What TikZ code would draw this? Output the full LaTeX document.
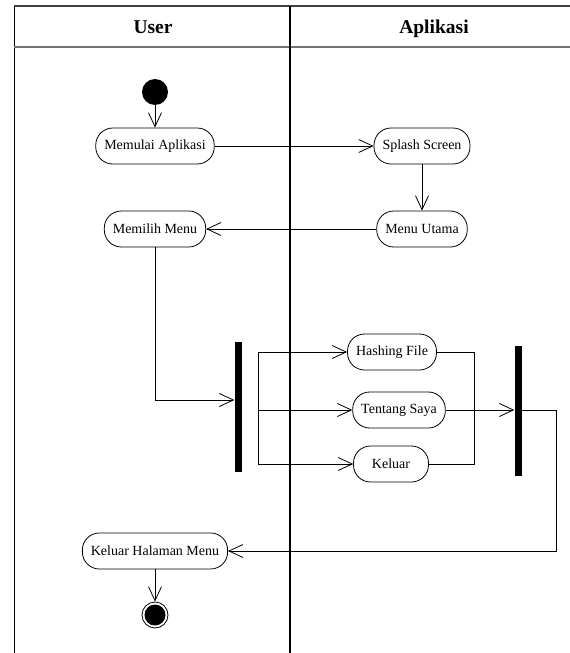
\documentclass[tikz,border=0pt]{standalone}
\usepackage{fontspec}
\setmainfont{Liberation Serif}
\usetikzlibrary{arrows.meta}

\begin{document}
\begin{tikzpicture}[x=1pt,y=-1pt,
  aksi/.style={draw,line width=0.8pt,rounded corners=17pt,minimum height=36pt,inner xsep=8.5pt,font=\rmfamily\fontsize{14}{16}\selectfont},
  palang/.style={fill=black,minimum width=7pt,minimum height=130pt,inner sep=0pt},
  panah/.style={line width=0.8pt,-{Straight Barb[length=14pt,width=13pt,line width=0.8pt]}},
  garis/.style={line width=0.8pt},
  judul/.style={anchor=base,font=\fontsize{19.5}{22}\selectfont\bfseries}]
\useasboundingbox (0,0) rectangle (570,653);
% Swimlane
\draw[line width=1pt] (14,653) -- (14,6);
\draw[black!75,line width=1.6pt] (14,6) -- (570,6);
\draw[black!55,line width=2.2pt] (14,47) -- (570,47);
\draw[line width=1.2pt] (290,6) -- (290,653);
\node[judul] (hUser) at (153,33) {User};
\node[judul] (hApp) at (434,33) {Aplikasi};
% User
\node[circle,fill=black,minimum size=26pt,inner sep=0pt] (mulai) at (155,92) {};
\node[aksi] (memulai) at (155,146) {Memulai Aplikasi};
\node[aksi] (memilih) at (155,229) {Memilih Menu};
\node[palang] (fork) at (238,407) {};
\node[aksi] (keluarhal) at (155,551) {Keluar Halaman Menu};
\node[circle,draw,line width=0.8pt,minimum size=26pt,inner sep=0pt] (akhir) at (155,615) {};
\fill (akhir.center) circle (10.5pt);
% Aplikasi
\node[aksi] (splash) at (422,146) {Splash Screen};
\node[aksi] (menu) at (422,229) {Menu Utama};
\node[aksi] (hashing) at (392,352) {Hashing File};
\node[aksi] (tentang) at (399,410) {Tentang Saya};
\node[aksi,minimum width=75pt] (keluar) at (391,464) {Keluar};
\node[palang] (join) at (518,411) {};
% Alur
\draw[panah] (mulai) -- (memulai);
\draw[panah] (memulai) -- (splash);
\draw[panah] (splash) -- (menu);
\draw[panah] (menu) -- (memilih);
\draw[panah] (memilih) |- ([yshift=7pt]fork.west);
\coordinate (f1) at (258,352);
\coordinate (f3) at (258,464);
\draw[garis] (f1) -- (f3);
\draw[panah] (f1) -- (hashing);
\draw[panah] (258,410) -- (tentang);
\draw[panah] (f3) -- (keluar);
\coordinate (g1) at (474,352);
\draw[garis] (hashing) -- (g1) |- (keluar);
\draw[panah] (tentang) -- (join.west |- tentang);
\coordinate (k1) at (556,410);
\coordinate (k2) at (556,551);
\draw[panah] (join.east |- k1) -- (k1) -- (k2) -- (keluarhal);
\draw[panah] (keluarhal) -- (akhir);
\end{tikzpicture}
\end{document}
